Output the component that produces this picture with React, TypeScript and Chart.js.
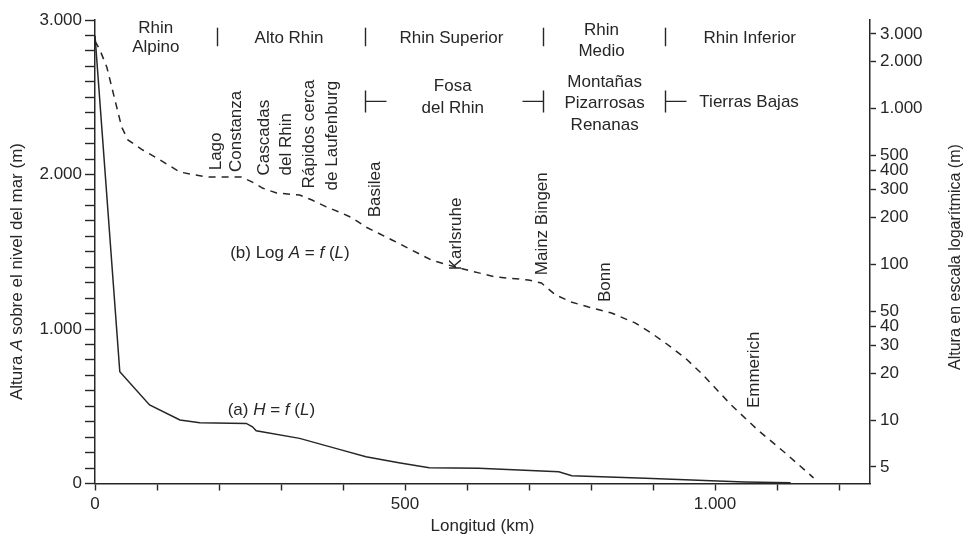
import React, { useEffect, useRef } from 'react';
import { Chart, registerables } from 'chart.js';

Chart.register(...registerables);

// ---------- data ----------
// (a) H = f(L): altitude above sea level (m) vs. length (km)
const profileKm = [0, 40, 88, 137, 169, 244, 254, 260, 330, 394, 437, 490, 539, 619, 748, 769, 888, 994, 1048, 1122];
const profileH = [2900, 723, 508, 411, 393, 389, 367, 341, 292, 221, 173, 134, 102, 98, 76, 50, 34, 18, 10, 5];

// (b) Log A = f(L): altitude on logarithmic scale (m) vs. length (km)
const logKm = [0, 8, 19, 27, 35, 43, 53, 77, 105, 137, 180, 236, 254, 270, 293, 330, 350, 373, 394, 415, 437, 479, 543, 587, 619, 646, 699, 720, 743, 768, 796, 833, 871, 897, 920, 952, 981, 1026, 1069, 1117, 1159];
const logA = [2700, 2366, 1841, 1370, 1019, 759, 627, 540, 466, 390, 362, 362, 336, 308, 286, 278, 258, 233, 216, 198, 173, 143, 106, 94.5, 87.9, 82.8, 79.2, 75.7, 63.4, 57.2, 53.1, 48.6, 42, 36.2, 31.2, 25, 19.4, 12.5, 8.63, 5.97, 4.25];

// ticks
const xTickValues = [0, 100, 200, 300, 400, 500, 600, 700, 800, 900, 1000, 1100, 1200];
const xTickLabels = ['0', '', '', '', '', '500', '', '', '', '', '1.000', '', ''];
const leftMinorStep = 100;
const leftLabelValues = [0, 1000, 2000, 3000];
const leftLabelTexts = ['0', '1.000', '2.000', '3.000'];
const rightTickValues = [5, 10, 20, 30, 40, 50, 100, 200, 300, 400, 500, 1000, 2000, 3000];
const rightTickLabels = ['5', '10', '20', '30', '40', '50', '100', '200', '300', '400', '500', '1.000', '2.000', '3.000'];

// text annotations (x in km, y in left-axis metres)
const sectionTexts: [string, number, number][] = [
  ['Rhin', 98, 2913], ['Alpino', 98, 2793],
  ['Alto Rhin', 313, 2851],
  ['Rhin Superior', 575, 2851],
  ['Rhin', 817, 2900], ['Medio', 817, 2770],
  ['Rhin Inferior', 1056, 2848],
  ['Fosa', 577, 2542], ['del Rhin', 577, 2399],
  ['Montañas', 822, 2567], ['Pizarrosas', 822, 2431], ['Renanas', 822, 2289],
  ['Tierras Bajas', 1055, 2438],
];
const sectionBars = [197, 435, 722, 919];
const regionBrackets: [number, number][] = [[435, 1], [722, -1], [919, 1]];
const placeTexts: [string, number, number][] = [
  ['Lago', 196, 2027], ['Constanza', 228, 2016],
  ['Cascadas', 273, 1994], ['del Rhin', 308, 1994],
  ['Rápidos cerca', 345, 1910], ['de Laufenburg', 382, 1897],
  ['Basilea', 452, 1723],
  ['Karlsruhe', 583, 1380],
  ['Mainz Bingen', 721, 1348],
  ['Bonn', 823, 1174],
  ['Emmerich', 1063, 488],
];

const FONT = '"Liberation Sans", Arial, Helvetica, sans-serif';
const INK = '#262626';

function fmtLeft(v: number) {
  const i = leftLabelValues.indexOf(v);
  return i >= 0 ? leftLabelTexts[i] : '';
}

function drawParts(ctx: CanvasRenderingContext2D, parts: [string, boolean][], x: number, y: number, size: number) {
  let cx = x;
  for (const [t, it] of parts) {
    ctx.font = `${it ? 'italic ' : ''}${size}px ${FONT}`;
    ctx.fillText(t, cx, y);
    cx += ctx.measureText(t).width;
  }
}

const annotPlugin = {
  id: 'annot',
  afterDraw(chart: any) {
    const { ctx, scales } = chart;
    const X = (k: number) => scales.x.getPixelForValue(k);
    const Y = (m: number) => scales.y.getPixelForValue(m);
    ctx.save();
    ctx.fillStyle = INK;
    ctx.strokeStyle = INK;
    ctx.lineWidth = 1.4;
    ctx.font = `17px ${FONT}`;
    ctx.textAlign = 'center';
    ctx.textBaseline = 'alphabetic';
    for (const [t, k, m] of sectionTexts) ctx.fillText(t, X(k), Y(m));

    // section separators
    for (const k of sectionBars) {
      ctx.beginPath();
      ctx.moveTo(Math.round(X(k)) + 0.5, Y(2950));
      ctx.lineTo(Math.round(X(k)) + 0.5, Y(2830));
      ctx.stroke();
    }
    // region brackets
    for (const [k, dir] of regionBrackets) {
      const px = Math.round(X(k)) + 0.5;
      ctx.beginPath();
      ctx.moveTo(px, Y(2544));
      ctx.lineTo(px, Y(2402));
      ctx.moveTo(px, Y(2473));
      ctx.lineTo(px + dir * 21, Y(2473));
      ctx.stroke();
    }

    // rotated place names
    ctx.textAlign = 'left';
    ctx.textBaseline = 'middle';
    ctx.font = `17px ${FONT}`;
    for (const [t, k, m] of placeTexts) {
      ctx.save();
      ctx.translate(X(k), Y(m));
      ctx.rotate(-Math.PI / 2);
      ctx.fillText(t, 0, 0);
      ctx.restore();
    }

    // formula labels
    ctx.textBaseline = 'alphabetic';
    drawParts(ctx, [['(b) Log ', false], ['A', true], [' = ', false], ['f', true], [' (', false], ['L', true], [')', false]], X(218), Y(1458), 17);
    drawParts(ctx, [['(a) ', false], ['H', true], [' = ', false], ['f', true], [' (', false], ['L', true], [')', false]], X(214), Y(443), 17);

    // axis titles
    const area = chart.chartArea;
    ctx.textAlign = 'center';
    ctx.font = `17px ${FONT}`;
    ctx.fillText('Longitud (km)', (area.left + area.right) / 2, 531);

    ctx.textAlign = 'left';
    ctx.textBaseline = 'middle';
    ctx.save();
    ctx.translate(17.5, 400);
    ctx.rotate(-Math.PI / 2);
    drawParts(ctx, [['Altura ', false], ['A', true], [' sobre el nivel del mar (m)', false]], 0, 0, 17);
    ctx.restore();

    ctx.save();
    ctx.translate(955.5, 370);
    ctx.rotate(-Math.PI / 2);
    ctx.font = `16px ${FONT}`;
    ctx.fillText('Altura en escala logarítmica (m)', 0, 0);
    ctx.restore();

    ctx.restore();
  },
};

export default function App() {
  const ref = useRef<HTMLCanvasElement | null>(null);
  useEffect(() => {
    document.body.style.margin = '0';
    const canvas = ref.current;
    if (!canvas) return;
    const tickFont = { family: FONT, size: 17 };
    const chart = new Chart(canvas, {
      type: 'line',
      data: {
        datasets: [
          {
            data: profileKm.map((k, i) => ({ x: k, y: profileH[i] })),
            yAxisID: 'y',
            borderColor: INK,
            borderWidth: 1.5,
            pointRadius: 0,
            tension: 0,
          },
          {
            data: logKm.map((k, i) => ({ x: k, y: logA[i] })),
            yAxisID: 'y2',
            borderColor: INK,
            borderWidth: 1.5,
            borderDash: [7, 6],
            pointRadius: 0,
            tension: 0,
          },
        ],
      },
      options: {
        animation: false,
        responsive: false,
        layout: { padding: { top: 20, left: 0, right: 0, bottom: 0 } },
        plugins: { legend: { display: false }, tooltip: { enabled: false } },
        scales: {
          x: {
            type: 'linear',
            min: 0,
            max: 1250,
            afterBuildTicks: (s: any) => { s.ticks = xTickValues.map((v) => ({ value: v })); },
            afterFit: (s: any) => { s.height = 52.5; },
            ticks: {
              autoSkip: false,
              maxRotation: 0,
              padding: 4,
              color: INK,
              font: tickFont,
              callback: (v: any) => { const i = xTickValues.indexOf(Number(v)); return i >= 0 ? xTickLabels[i] : ''; },
            },
            grid: { drawOnChartArea: false, tickLength: 7, tickColor: INK, tickWidth: 1.4 },
            border: { display: true, color: INK, width: 1.5 },
          },
          y: {
            type: 'linear',
            position: 'left',
            min: 0,
            max: 3000,
            afterBuildTicks: (s: any) => {
              const t = [];
              for (let v = 0; v <= 3000; v += leftMinorStep) t.push({ value: v });
              s.ticks = t;
            },
            afterFit: (s: any) => { s.width = 95; },
            ticks: {
              autoSkip: false,
              padding: 3,
              color: INK,
              font: tickFont,
              callback: (v: any) => fmtLeft(Number(v)),
            },
            grid: { drawOnChartArea: false, tickLength: 10, tickColor: INK, tickWidth: 1.4 },
            border: { display: true, color: INK, width: 1.5 },
          },
          y2: {
            type: 'logarithmic',
            position: 'right',
            min: 3.914,
            max: 3687,
            afterBuildTicks: (s: any) => { s.ticks = rightTickValues.map((v) => ({ value: v })); },
            afterFit: (s: any) => { s.width = 96; },
            ticks: {
              autoSkip: false,
              padding: 4,
              color: INK,
              font: tickFont,
              callback: (v: any) => { const i = rightTickValues.indexOf(Number(v)); return i >= 0 ? rightTickLabels[i] : ''; },
            },
            grid: { drawOnChartArea: false, tickLength: 6, tickColor: INK, tickWidth: 1.4 },
            border: { display: true, color: INK, width: 1.5 },
          },
        },
      } as any,
      plugins: [annotPlugin],
    });
    return () => chart.destroy();
  }, []);
  return (
    <div style={{ position: 'absolute', left: 0, top: 0, width: 966, height: 536, background: '#fff' }}>
      <canvas ref={ref} width={966} height={536} style={{ display: 'block' }} />
    </div>
  );
}
